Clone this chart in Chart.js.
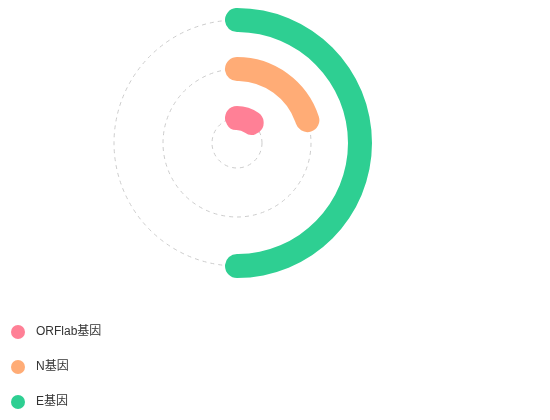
<!DOCTYPE html>
<html>
<head>
    <meta charset="UTF-8">
    <title>基因</title>
    <script src="https://cdn.jsdelivr.net/npm/chart.js"></script>
    <style>
        html, body { margin: 0; width: 550px; height: 420px; overflow: hidden; background: #fff; }
        /* chart box is bigger than the window and shifted, so the ring centre lands
           at (237,143) while the legend sits in the bottom left corner */
        #wrap { position: absolute; left: -12px; top: -145px; width: 498px; height: 576px; }
    </style>
</head>
<body>
<div id="wrap"><canvas id="genes"></canvas></div>
<script>
    // legend order is inner ring -> outer ring
    const categories = ['ORFlab基因', 'N基因', 'E基因'];
    const values = [10, 20, 50];
    const maxValue = 100;
    const colors = ['#ff8096', '#ffac76', '#2ecf92'];

    const RING = 24;   // bar thickness
    const GAP = 25;    // space between bars
    const HOLE = 13;   // empty radius in the middle
    const OUTER = HOLE + RING * 3 + GAP * 2;
    const DOT_BOX = 19; // legend marker box, dot sits at its left

    // mid radius of ring i (0 = inner)
    function midRadius(i) {
        return HOLE + RING / 2 + i * (RING + GAP);
    }

    // round caps stick out past the value, so the arc is widened by one cap each side
    function capDeg(i) {
        return (RING / 2) / midRadius(i) * 180 / Math.PI;
    }

    // legend dot with some empty room on its right before the text
    function makeDot(color) {
        const c = document.createElement('canvas');
        c.width = DOT_BOX;
        c.height = 14;
        const g = c.getContext('2d');
        g.fillStyle = color;
        g.beginPath();
        g.arc(7, 7, 7, 0, Math.PI * 2);
        g.fill();
        return c;
    }

    const datasets = [];
    for (let i = categories.length - 1; i >= 0; i--) {
        const c = capDeg(i);
        datasets.push({
            label: categories[i],
            data: [values[i], maxValue - values[i]],
            backgroundColor: [colors[i], 'rgba(0,0,0,0)'],
            borderWidth: 0,
            borderRadius: RING / 2,
            weight: RING,
            rotation: -c,
            circumference: 360 + 2 * c * maxValue / values[i],
            ring: i
        });
        if (i > 0) {
            datasets.push({
                label: '',
                data: [1],
                backgroundColor: 'rgba(0,0,0,0)',
                borderWidth: 0,
                weight: GAP
            });
        }
    }

    const dashedRings = {
        id: 'dashedRings',
        beforeDatasetsDraw(chart) {
            const ctx = chart.ctx;
            ctx.save();
            ctx.strokeStyle = '#cccccc';
            ctx.lineWidth = 1;
            ctx.setLineDash([4, 4]);
            chart.data.datasets.forEach((ds, i) => {
                if (ds.ring === undefined) return;
                const arc = chart.getDatasetMeta(i).data[0];
                const r = (arc.innerRadius + arc.outerRadius) / 2;
                ctx.beginPath();
                ctx.arc(arc.x, arc.y, r, 0, Math.PI * 2);
                ctx.stroke();
            });
            ctx.restore();
        }
    };

    const config = {
        type: 'doughnut',
        data: { labels: ['value', 'rest'], datasets: datasets },
        plugins: [dashedRings],
        options: {
            responsive: true,
            maintainAspectRatio: false,
            animation: false,
            events: [],
            radius: OUTER,
            cutout: (HOLE / OUTER * 100) + '%',
            plugins: {
                tooltip: { enabled: false },
                legend: {
                    position: 'chartArea',
                    align: 'end',
                    onClick: null,
                    labels: {
                        usePointStyle: true,
                        boxHeight: 10,
                        pointStyleWidth: DOT_BOX,
                        padding: 23,
                        color: '#333',
                        font: { family: "'Liberation Sans', 'Noto Sans CJK SC', sans-serif", size: 12 },
                        generateLabels: () => categories.map((text, i) => ({
                            text: text,
                            fillStyle: colors[i],
                            strokeStyle: colors[i],
                            lineWidth: 0,
                            pointStyle: makeDot(colors[i]),
                            hidden: false,
                            fontColor: '#333'
                        }))
                    }
                }
            }
        }
    };

    new Chart(document.getElementById('genes').getContext('2d'), config);
</script>
</body>
</html>
